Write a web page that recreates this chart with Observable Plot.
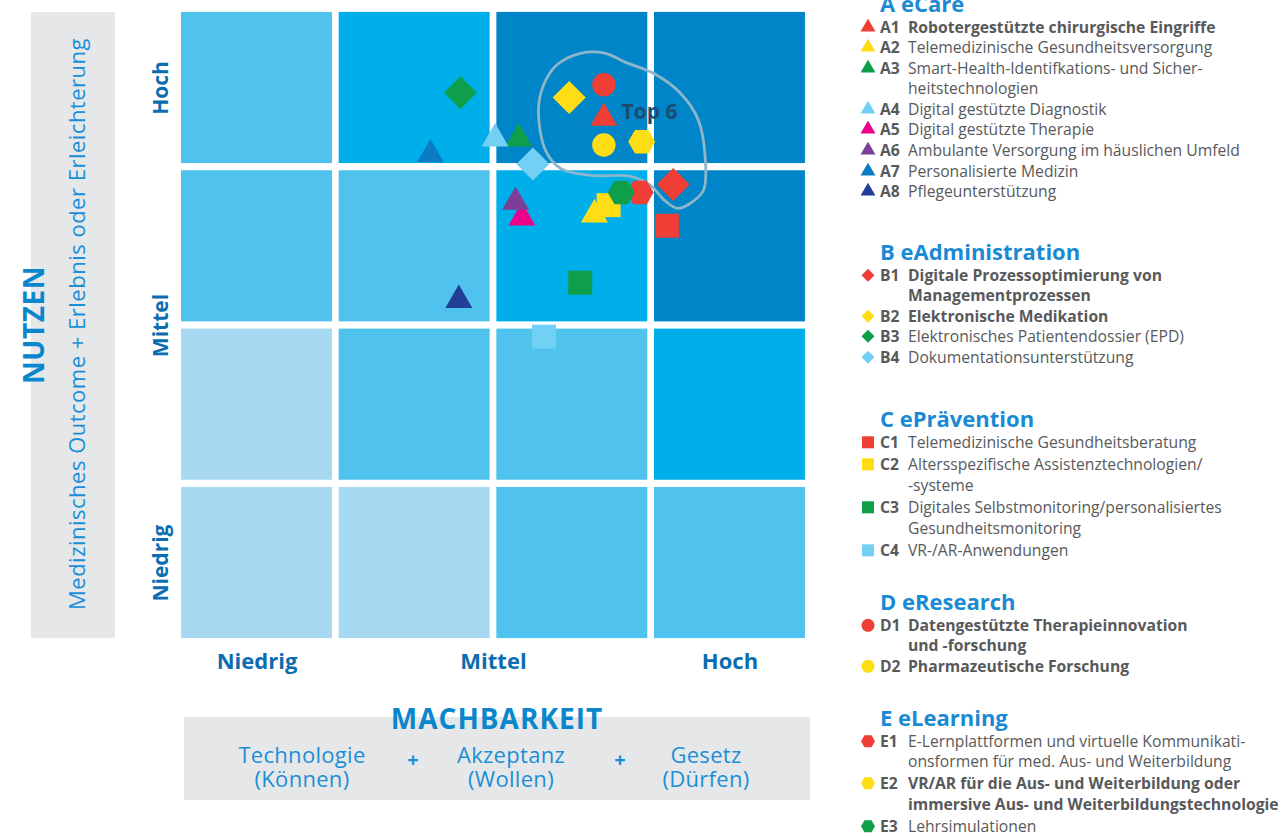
<!DOCTYPE html>
<html><head><meta charset="utf-8">
<script src="https://cdn.jsdelivr.net/npm/d3@7"></script>
<script src="https://cdn.jsdelivr.net/npm/@observablehq/plot@0.6"></script>
<style>
body{margin:0;background:#fff;font-family:"Open Sans",sans-serif;}
#page{position:relative;width:1282px;height:836px;overflow:hidden;background:#fff;}
#chart{position:absolute;left:0;top:0;}
.box{position:absolute;background:#E6E7E8;}
.abs{position:absolute;white-space:nowrap;}
.rot{transform:translate(-50%,-50%) rotate(-90deg);}
.ctr{transform:translate(-50%,-50%);text-align:center;}
.grp{position:absolute;left:858px;}
.ghead{margin-left:22px;font-size:22px;font-weight:700;color:#1A8AD4;line-height:24px;margin-bottom:1.5px;white-space:nowrap;}
.item{display:flex;align-items:flex-start;font-size:15.7px;line-height:20.6px;color:#58595B;}
.item svg{flex:none;margin-right:2px;}
.code{flex:none;width:28px;font-weight:700;}
.lbl{white-space:pre;}
.b .lbl{font-weight:700;}
</style></head><body>
<div id="page">
  <div class="box" style="left:31px;top:12px;width:84px;height:626px;"></div>
  <div class="abs rot" style="left:33px;top:325px;font-size:28px;font-weight:700;color:#0A86CC;letter-spacing:0.5px;">NUTZEN</div>
  <div class="abs rot" style="left:76px;top:324px;font-size:22px;color:#1A8FD8;letter-spacing:0.5px;">Medizinisches Outcome + Erlebnis oder Erleichterung</div>
  <div class="box" style="left:184px;top:717px;width:626px;height:83px;"></div>
  <div class="abs ctr" style="left:497px;top:718px;font-size:28px;font-weight:700;color:#0A86CC;letter-spacing:1px;">MACHBARKEIT</div>
  <div id="feas"></div>
  <div id="chart"></div>
  <div id="legend"></div>
</div>
<script>
// ---- data ----
const levelNames = ["Niedrig", "Mittel", "Hoch"];
const levelPos = [0.5, 2, 3.5];
const shadeColors = ["#A8D9F3", "#4FC2EE", "#00AEEA", "#0086C8"];
// rows from bottom (Niedrig) to top (Hoch), columns left to right
const cellShade = [
  [0, 0, 1, 1],
  [0, 1, 1, 2],
  [1, 1, 2, 3],
  [1, 2, 3, 3]
];
const groupTitles = ["A eCare", "B eAdministration", "C ePrävention", "D eResearch", "E eLearning"];
const groupSymbols = ["triangle", "diamond2", "square", "circle", "hexagon"];
const groupTops = [-9, 239, 406, 589, 705];
const groupItemGap = [0, 0, 2, 0, 1.5];
const itemGroup = [0,0,0,0,0,0,0,0, 1,1,1,1, 2,2,2,2, 3,3, 4,4,4];
const itemCodes = ["A1","A2","A3","A4","A5","A6","A7","A8","B1","B2","B3","B4","C1","C2","C3","C4","D1","D2","E1","E2","E3"];
const itemLabels = [
  "Robotergestützte chirurgische Eingriffe",
  "Telemedizinische Gesundheitsversorgung",
  "Smart-Health-Identifkations- und Sicher-\nheitstechnologien",
  "Digital gestützte Diagnostik",
  "Digital gestützte Therapie",
  "Ambulante Versorgung im häuslichen Umfeld",
  "Personalisierte Medizin",
  "Pflegeunterstützung",
  "Digitale Prozessoptimierung von\nManagementprozessen",
  "Elektronische Medikation",
  "Elektronisches Patientendossier (EPD)",
  "Dokumentationsunterstützung",
  "Telemedizinische Gesundheitsberatung",
  "Altersspezifische Assistenztechnologien/\n-systeme",
  "Digitales Selbstmonitoring/personalisiertes\nGesundheitsmonitoring",
  "VR-/AR-Anwendungen",
  "Datengestützte Therapieinnovation\nund -forschung",
  "Pharmazeutische Forschung",
  "E-Lernplattformen und virtuelle Kommunikati-\nonsformen für med. Aus- und Weiterbildung",
  "VR/AR für die Aus- und Weiterbildung oder\nimmersive Aus- und Weiterbildungstechnologie",
  "Lehrsimulationen"
];
const itemBold = [1,0,0,0,0,0,0,0, 1,1,0,0, 0,0,0,0, 1,1, 0,1,0];
const itemColors = ["#EE3E36","#FFDD15","#0F9F4A","#72D0F5","#EC008C","#7B3F98","#0A7CC3","#223F98",
  "#EE3E36","#FFDD15","#0F9F4A","#72D0F5",
  "#EE3E36","#FFDD15","#0F9F4A","#72D0F5",
  "#EE3E36","#FFDD15",
  "#EE3E36","#FFDD15","#0F9F4A"];
// Machbarkeit (x) and Nutzen (y), scale 0..4
const feasibility = [2.70,2.64,2.16,2.01,2.18,2.14,1.60,1.78, 3.14,2.48,1.79,2.25, 3.10,2.73,2.55,2.32, 2.70,2.70, 2.93,2.94,2.81];
const benefit     = [3.31,2.70,3.18,3.18,2.68,2.78,3.08,2.16, 2.89,3.44,3.47,3.02, 2.63,2.76,2.27,1.93, 3.52,3.14, 2.84,3.16,2.84];
// Top 6 outline (Machbarkeit, Nutzen)
const top6Outline = [
  [2.285,3.359],[2.317,3.517],[2.399,3.643],[2.552,3.719],[2.710,3.719],[2.837,3.662],[3.015,3.593],
  [3.186,3.467],[3.300,3.296],[3.344,3.043],[3.332,2.854],[3.249,2.772],[3.167,2.740],[3.085,2.790],
  [2.996,2.885],[2.869,2.942],[2.615,2.948],[2.425,2.992],[2.330,3.106]
];
const top6Label = ["Top 6"];
const top6LabelPos = [2.99, 3.346];
const feasParts = [["Technologie","(Können)"],["Akzeptanz","(Wollen)"],["Gesetz","(Dürfen)"]];

// ---- symbols ----
const hexagonFlat = {
  draw(ctx, size) {
    const R = Math.sqrt(2 * size / (3 * Math.sqrt(3)));
    const h = R * Math.sqrt(3) / 2;
    ctx.moveTo(R, 0); ctx.lineTo(R / 2, h); ctx.lineTo(-R / 2, h);
    ctx.lineTo(-R, 0); ctx.lineTo(-R / 2, -h); ctx.lineTo(R / 2, -h); ctx.closePath();
  }
};
const d3Sym = {triangle: d3.symbolTriangle, diamond2: d3.symbolDiamond2, square: d3.symbolSquare, circle: d3.symbolCircle, hexagon: hexagonFlat};
const plotSym = s => s === "hexagon" ? hexagonFlat : s;
const markerR = [10.02, 14.9, 13.54, 11.7, 12.28];
const swatchSize = [97, 108, 144, 133, 127];

// ---- rows ----
const cells = [];
cellShade.forEach((row, j) => row.forEach((s, i) => cells.push({i, j, fill: shadeColors[s]})));
const items = itemCodes.map((code, k) => ({code, label: itemLabels[k], g: itemGroup[k], color: itemColors[k],
  x: feasibility[k], y: benefit[k], bold: itemBold[k]}));

const chart = Plot.plot({
  width: 830, height: 680,
  marginLeft: 177.7, marginRight: 21.7, marginTop: 8.3, marginBottom: 38.3,
  x: {domain: [0, 4], axis: null},
  y: {domain: [0, 4], axis: null},
  color: {type: "identity"},
  style: {fontFamily: '"Open Sans", sans-serif', background: "transparent", overflow: "visible"},
  marks: [
    Plot.rect(cells, {x1: d => d.i, x2: d => d.i + 1, y1: d => d.j, y2: d => d.j + 1, fill: "fill",
      insetLeft: 3.35, insetRight: 3.35, insetTop: 3.6, insetBottom: 3.6}),
    Plot.line(top6Outline, {x: d => d[0], y: d => d[1], curve: "catmull-rom-closed", stroke: "#8DB6CA", strokeWidth: 2.8}),
    ...groupSymbols.map((s, g) => Plot.dot(items.filter(d => d.g === g), {
      x: "x", y: "y", fill: "color", symbol: plotSym(s), r: markerR[g]})),
    Plot.text(top6Label, {x: () => top6LabelPos[0], y: () => top6LabelPos[1], text: d => d,
      fontSize: 21, fontWeight: 700, fill: "#1D4C73"}),
    Plot.text(levelNames, {x: (d, i) => levelPos[i], frameAnchor: "bottom", dy: 19.5, text: d => d,
      lineAnchor: "middle", fontSize: 22, fontWeight: 700, fill: "#0B6DB0"}),
    Plot.text(levelNames, {y: (d, i) => levelPos[i], frameAnchor: "left", dx: -17, text: d => d, rotate: -90,
      lineAnchor: "middle", textAnchor: "middle", fontSize: 21, fontWeight: 700, fill: "#0B6DB0"})
  ]
});
document.getElementById("chart").appendChild(chart);

// ---- feasibility box text ----
const feas = document.getElementById("feas");
const partX = [302, 511, 706], plusX = [413, 620], lineY = [754, 778];
feasParts.forEach((p, i) => {
  p.forEach((line, l) => {
    const d = document.createElement("div");
    d.className = "abs ctr";
    d.style.cssText = `left:${partX[i]}px;top:${lineY[l]}px;font-size:22px;line-height:20px;color:#1A8FD8;letter-spacing:0.3px;`;
    d.textContent = line;
    feas.appendChild(d);
  });
});
plusX.forEach(x => {
  const d = document.createElement("div");
  d.className = "abs ctr";
  d.style.cssText = `left:${x}px;top:759px;font-size:20px;font-weight:700;color:#1A8FD8;`;
  d.textContent = "+";
  feas.appendChild(d);
});

// ---- legend ----
const legend = document.getElementById("legend");
groupTitles.forEach((t, g) => {
  const grp = document.createElement("div");
  grp.className = "grp";
  grp.style.top = groupTops[g] + "px";
  const h = document.createElement("div");
  h.className = "ghead";
  h.textContent = t;
  grp.appendChild(h);
  items.filter(d => d.g === g).forEach(d => {
    const it = document.createElement("div");
    it.className = "item" + (d.bold ? " b" : "");
    it.style.marginBottom = groupItemGap[g] + "px";
    const path = d3.symbol(d3Sym[groupSymbols[g]], swatchSize[g])();
    it.innerHTML = `<svg width="20" height="20.6" viewBox="-10 -10.3 20 20.6"><path d="${path}" fill="${d.color}"/></svg>` +
      `<span class="code">${d.code}</span><span class="lbl"></span>`;
    it.querySelector(".lbl").textContent = d.label;
    grp.appendChild(it);
  });
  legend.appendChild(grp);
});
</script>
</body></html>
